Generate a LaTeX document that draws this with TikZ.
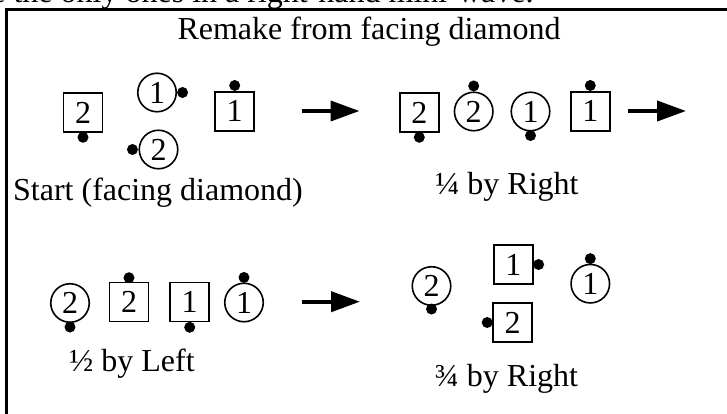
\documentclass[tikz,border=0pt]{standalone}
\usepackage{fontspec}
\setmainfont{Liberation Serif}
\usetikzlibrary{arrows.meta,positioning}

\begin{document}
\begin{tikzpicture}[x=1pt,y=-1pt,font=\fontsize{32}{38}\selectfont,
    boy/.style={draw,line width=1.6pt,minimum size=39pt,inner sep=0pt},
    girl/.style={draw,circle,line width=1.6pt,minimum size=38.5pt,inner sep=0pt},
    nose/.style={fill=black},
    go/.style={line width=4pt,-{Triangle[length=29pt,width=20pt]}}]
      \useasboundingbox (0,0) rectangle (727,414);
      \clip (0,0) rectangle (727,414);
      \node[anchor=base east] (cut) at (537,3) {are the only ones in a right-hand mini-wave.};
      \draw[line width=3pt] (6,414) -- (6,10) -- (727,10);
      \node[anchor=base] (title) at (369,40) {Remake from facing diamond};

      % start
      \node[boy] (s_b2) at (83,112.5) {2};
      \node[girl] (s_g1) at (157,92.5) {1};
      \node[girl] (s_g2) at (158.5,149.5) {2};
      \node[boy] (s_b1) at (234.7,111.3) {1};
      \fill[nose] (s_b2.south) ++(0,4.5) circle (5.5pt);
      \fill[nose] (s_g1.east) ++(5.5,0) circle (5.5pt);
      \fill[nose] (s_g2.west) ++(-6,0) circle (5.5pt);
      \fill[nose] (s_b1.north) ++(0,-5.5) circle (5.5pt);
      \node[anchor=base] (s_lab) at (158,200) {Start (facing diamond)};
      \coordinate (a_1) at (301.7,111);
      \coordinate (a_2) at (359.5,111);
      \draw[go] (a_1) -- (a_2);

      % 1/4
      \node[boy] (q_b2) at (419.3,112.5) {2};
      \node[girl] (q_g2) at (473.7,111.5) {2};
      \node[girl] (q_g1) at (530.5,111.5) {1};
      \node[boy] (q_b1) at (590.3,111.3) {1};
      \fill[nose] (q_b2.south) ++(0,4.5) circle (5.5pt);
      \fill[nose] (q_g2.north) ++(0,-5.5) circle (5.5pt);
      \fill[nose] (q_g1.south) ++(0,4) circle (5.5pt);
      \fill[nose] (q_b1.north) ++(0,-5.5) circle (5.5pt);
      \node[anchor=base] (q_lab) at (507,194) {¼ by Right};
      \coordinate (b_1) at (628,111);
      \coordinate (b_2) at (686,111);
      \draw[go] (b_1) -- (b_2);

      % 1/2
      \node[girl] (h_g2) at (70,303) {2};
      \node[boy] (h_b2) at (129,302) {2};
      \node[boy] (h_b1) at (189.7,302) {1};
      \node[girl] (h_g1) at (244,302.5) {1};
      \fill[nose] (h_g2.south) ++(0,4) circle (5.5pt);
      \fill[nose] (h_b2.north) ++(0,-4) circle (5.5pt);
      \fill[nose] (h_b1.south) ++(0,5) circle (5.5pt);
      \fill[nose] (h_g1.north) ++(0,-5) circle (5.5pt);
      \node[anchor=base] (h_lab) at (132,371) {½ by Left};
      \coordinate (c_1) at (301.7,301.7);
      \coordinate (c_2) at (360,301.7);
      \draw[go] (c_1) -- (c_2);

      % 3/4
      \node[girl] (t_g2) at (431.5,286) {2};
      \node[boy] (t_b1) at (513.3,264.5) {1};
      \node[boy] (t_b2) at (512.5,322.5) {2};
      \node[girl] (t_g1) at (590.3,283.7) {1};
      \fill[nose] (t_g2.south) ++(0,3) circle (5.5pt);
      \fill[nose] (t_b1.east) ++(5,0) circle (5.5pt);
      \fill[nose] (t_b2.west) ++(-5,0) circle (5.5pt);
      \fill[nose] (t_g1.north) ++(0,-5) circle (5.5pt);
      \node[anchor=base] (t_lab) at (506.5,386) {¾ by Right};
\end{tikzpicture}
\end{document}
